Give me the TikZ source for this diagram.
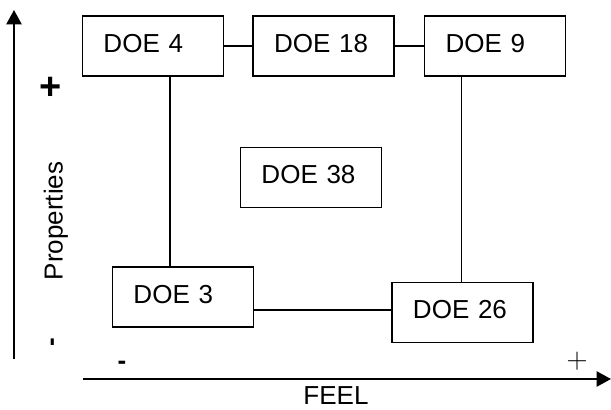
\documentclass[tikz,border=0pt]{standalone}
\usepackage[no-math]{fontspec}
\setmainfont{Liberation Sans}
\usetikzlibrary{arrows.meta,positioning,calc}

\begin{document}
\begin{tikzpicture}[
    x=0.025cm, y=-0.025cm,
    font=\fontsize{18.5}{22}\selectfont,
    axisarrow/.style={-{Triangle[length=0.36cm,width=0.38cm]},line width=1.4pt},
    link/.style={line width=0.8pt},
    annot/.style={inner sep=0pt},
    signmark/.style={inner sep=0pt,font=\fontsize{18.5}{22}\selectfont\bfseries},
    doeblock/.style={
        draw, line width=1.1pt,
        minimum height=1.5cm, text width=2.475cm, inner xsep=0.525cm,
        text depth=0.15cm, align=left,
    },
]
\useasboundingbox (0,0) rectangle (611,409);

% ============================================================
% AXES
% ============================================================
\coordinate (yorig) at (14,359);
\coordinate (ytop) at (14,10);
\coordinate (xorig) at (83,379);
\coordinate (xend) at (611,379);

\draw[axisarrow] (yorig) -- (ytop);
\draw[axisarrow] (xorig) -- (xend);

\node[annot,font=\fontsize{27}{30}\selectfont\bfseries] (yplus) at (51,88) {+};
\node[annot,rotate=90] (ylabel) at (56,221) {Properties};
\node[signmark,rotate=90] (yminus) at (55,342) {-};

\node[signmark] (xminus) at (122,365) {-};
\node[annot,font=\fontsize{22}{24}\selectfont] (xplus) at (577,361) {$+$};
\node[annot] (xlabel) at (336,396) {FEEL};

% ============================================================
% DOE BLOCKS
% ============================================================
\node[doeblock] (doe4) at (153,46) {DOE 4};
\node[doeblock, right=0.7cm of doe4] (doe18) {DOE 18};
\node[doeblock, right=0.725cm of doe18] (doe9) {DOE 9};

\node[doeblock] (doe38) at (311,177.5) {DOE 38};

\node[doeblock] (doe3) at (183,297) {DOE 3};
\node[doeblock] (doe26) at (462.5,312.5) {DOE 26};

% ============================================================
% LINKS
% ============================================================
\draw[link] (doe4.east) -- (doe18.west);
\draw[link] (doe18.east) -- (doe9.west);

\draw[link] ([xshift=0.425cm]doe4.south)
    -- ([xshift=0.425cm]doe4.south |- doe3.north);
\draw[link] ([xshift=-0.85cm]doe9.south)
    -- ([xshift=-0.85cm]doe9.south |- doe26.north);
\draw[link] ([yshift=-0.325cm]doe3.east)
    -- ([yshift=-0.325cm]doe3.east -| doe26.west);

\end{tikzpicture}
\end{document}
